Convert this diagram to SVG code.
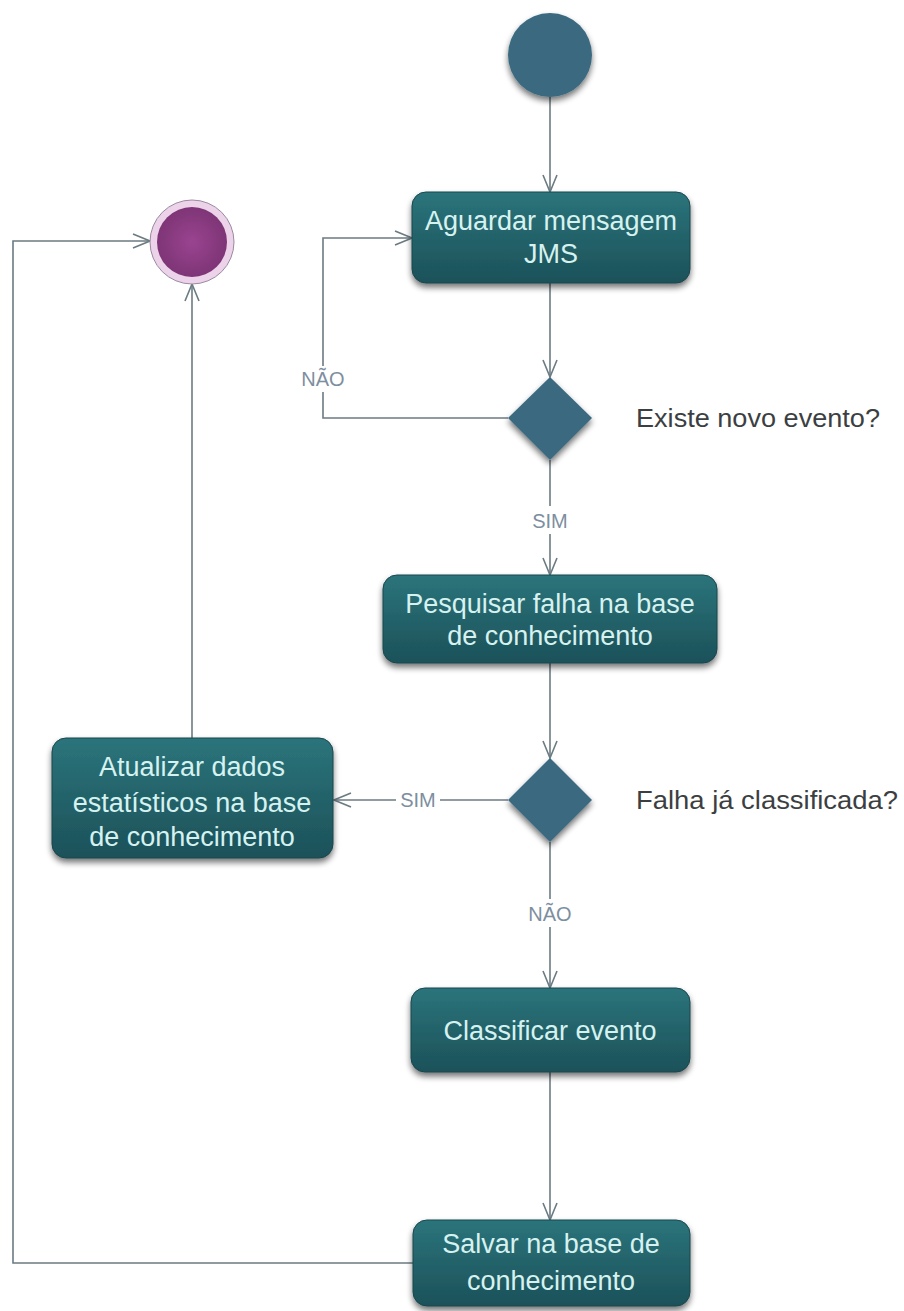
<svg xmlns="http://www.w3.org/2000/svg" width="904" height="1311" viewBox="0 0 904 1311">
  <defs>
    <linearGradient id="boxFill" x1="0" y1="0" x2="0" y2="1">
      <stop offset="0" stop-color="#2b747b"/>
      <stop offset="1" stop-color="#1c5159"/>
    </linearGradient>
    <radialGradient id="endFill" cx="0.5" cy="0.5" r="0.5">
      <stop offset="0" stop-color="#9a4490"/>
      <stop offset="1" stop-color="#7e3576"/>
    </radialGradient>
    <filter id="shadow" x="-20%" y="-20%" width="140%" height="150%">
      <feGaussianBlur in="SourceAlpha" stdDeviation="3"/>
      <feOffset dx="0" dy="4" result="b"/>
      <feComponentTransfer><feFuncA type="linear" slope="0.55"/></feComponentTransfer>
      <feMerge><feMergeNode/><feMergeNode in="SourceGraphic"/></feMerge>
    </filter>
    <marker id="open" viewBox="0 0 20 20" refX="19" refY="10" markerWidth="20" markerHeight="20" markerUnits="userSpaceOnUse" orient="auto">
      <path d="M2,3 L19,10 L2,17" fill="none" stroke="#6b7b82" stroke-width="1.6"/>
    </marker>
  </defs>
  <style>
    .box { fill: url(#boxFill); stroke: #1a464d; stroke-width: 1; filter: url(#shadow); }
    .dec { fill: #3b6a80; filter: url(#shadow); }
    .lbl { font-family: "Liberation Sans", Arial, sans-serif; font-size: 27px; fill: #d6f2f0; text-anchor: middle; }
    .cond { font-family: "Liberation Sans", Arial, sans-serif; font-size: 25px; fill: #3c3f42; }
    .guard { font-family: "Liberation Sans", Arial, sans-serif; font-size: 20px; fill: #7d8ea0; text-anchor: middle; }
    .edge { fill: none; stroke: #6b7b82; stroke-width: 1.6; }
  </style>
  <rect width="904" height="1311" fill="#ffffff"/>

  <!-- connectors -->
  <g id="connectors">
    <path class="edge" d="M550,97 L550,192" marker-end="url(#open)"/>
    <path class="edge" d="M550,283 L550,377" marker-end="url(#open)"/>
    <path class="edge" d="M508,418 L323,418 L323,392"/>
    <path class="edge" d="M323,366 L323,238 L412,238" marker-end="url(#open)"/>
    <path class="edge" d="M550,460 L550,506"/>
    <path class="edge" d="M550,534 L550,575" marker-end="url(#open)"/>
    <path class="edge" d="M550,663 L550,758" marker-end="url(#open)"/>
    <path class="edge" d="M508,800 L440,800"/>
    <path class="edge" d="M396,800 L334,800" marker-end="url(#open)"/>
    <path class="edge" d="M550,842 L550,899"/>
    <path class="edge" d="M550,927 L550,988" marker-end="url(#open)"/>
    <path class="edge" d="M550,1072 L550,1220" marker-end="url(#open)"/>
    <path class="edge" d="M192,738 L192,284" marker-end="url(#open)"/>
    <path class="edge" d="M413,1263 L13,1263 L13,241 L150,241" marker-end="url(#open)"/>
    <text class="guard" x="323" y="386">NÃO</text>
    <text class="guard" x="550" y="528">SIM</text>
    <text class="guard" x="418" y="807">SIM</text>
    <text class="guard" x="550" y="921">NÃO</text>
  </g>

  <g id="start">
    <circle cx="550" cy="55" r="42" fill="#3b6a80" filter="url(#shadow)"/>
  </g>

  <g id="end">
    <circle cx="192" cy="242" r="42" fill="#ecd3ea" stroke="#9a8aa0" stroke-width="1"/>
    <circle cx="192" cy="242" r="35" fill="url(#endFill)"/>
  </g>

  <g id="aguardar">
    <rect class="box" x="412" y="192" width="278" height="91" rx="14"/>
    <text class="lbl" x="551" y="230">Aguardar mensagem</text>
    <text class="lbl" x="551" y="263">JMS</text>
  </g>

  <g id="existe-evento">
    <polygon class="dec" points="550,377 592,418 550,460 508,418"/>
    <text class="cond" x="636" y="427" textLength="244" lengthAdjust="spacingAndGlyphs">Existe novo evento?</text>
  </g>

  <g id="pesquisar">
    <rect class="box" x="383" y="575" width="334" height="88" rx="14"/>
    <text class="lbl" x="550" y="613">Pesquisar falha na base</text>
    <text class="lbl" x="550" y="645">de conhecimento</text>
  </g>

  <g id="falha-classificada">
    <polygon class="dec" points="550,758 592,800 550,842 508,800"/>
    <text class="cond" x="636" y="809" textLength="262" lengthAdjust="spacingAndGlyphs">Falha já classificada?</text>
  </g>

  <g id="atualizar">
    <rect class="box" x="52" y="738" width="281" height="120" rx="14"/>
    <text class="lbl" x="192" y="776">Atualizar dados</text>
    <text class="lbl" x="192" y="812">estatísticos na base</text>
    <text class="lbl" x="192" y="846">de conhecimento</text>
  </g>

  <g id="classificar">
    <rect class="box" x="411" y="988" width="279" height="84" rx="14"/>
    <text class="lbl" x="550" y="1040">Classificar evento</text>
  </g>

  <g id="salvar">
    <rect class="box" x="413" y="1220" width="277" height="86" rx="14"/>
    <text class="lbl" x="551" y="1253">Salvar na base de</text>
    <text class="lbl" x="551" y="1290">conhecimento</text>
  </g>
</svg>
